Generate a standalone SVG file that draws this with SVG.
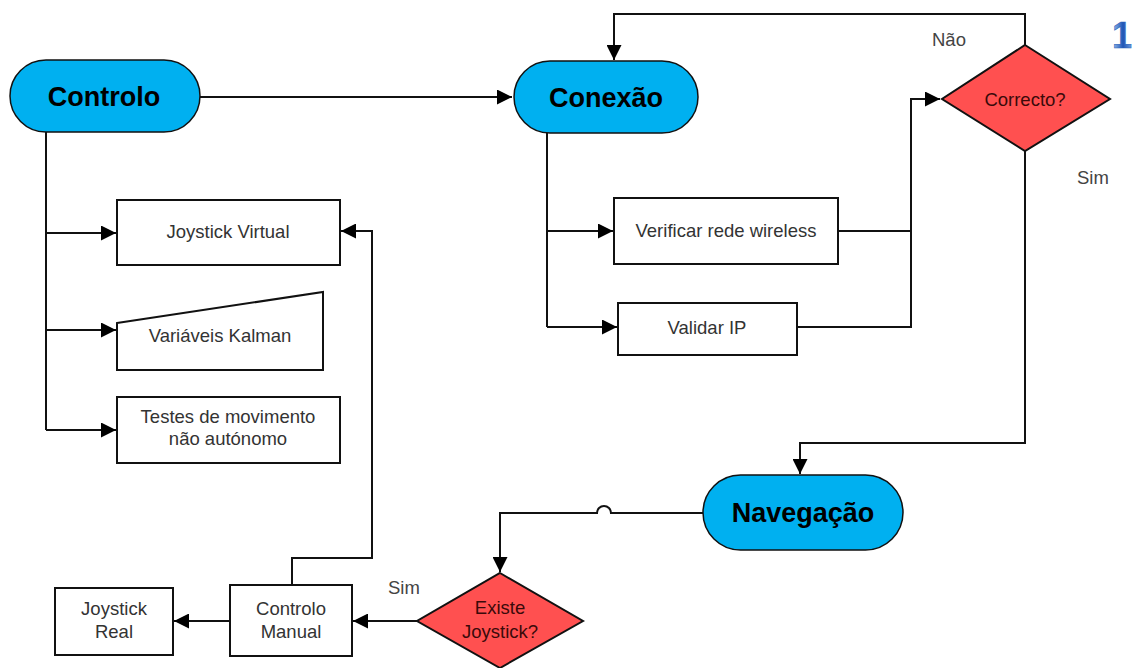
<svg xmlns="http://www.w3.org/2000/svg" width="1133" height="668" viewBox="0 0 1133 668">
<defs>
<marker id="ah" viewBox="0 0 10 10" refX="10" refY="5" markerWidth="16" markerHeight="15" markerUnits="userSpaceOnUse" orient="auto">
<path d="M0,0 L10,5 L0,10 Z" fill="#000"/>
</marker>
<linearGradient id="g1" x1="0" y1="0" x2="1" y2="0">
<stop offset="0" stop-color="#9ec3ee"/>
<stop offset="0.55" stop-color="#1f55b5"/>
<stop offset="1" stop-color="#6f9fe0"/>
</linearGradient>
</defs>
<style>
.pill{fill:#00b0f0;stroke:#111;stroke-width:1.5}
.box{fill:#fff;stroke:#111;stroke-width:2}
.dia{fill:#ff5050;stroke:#111;stroke-width:2}
.pt{font-family:"Liberation Sans",Arial,sans-serif;font-weight:bold;font-size:27px;fill:#000;text-anchor:middle}
.bt{font-family:"Liberation Sans",Arial,sans-serif;font-size:18.5px;fill:#333;text-anchor:middle}
.dt{font-family:"Liberation Sans",Arial,sans-serif;font-size:18.5px;fill:#3a0a0a;text-anchor:middle}
.lb{font-family:"Liberation Sans",Arial,sans-serif;font-size:18.5px;fill:#444}
.c{fill:none;stroke:#111;stroke-width:2}
</style>
<rect width="1133" height="668" fill="#fff"/>
<g id="connectors">
<path class="c" d="M200,97 L512,97" marker-end="url(#ah)"/>
<path class="c" d="M1025,45 L1025,14 L614,14 L614,60" marker-end="url(#ah)"/>
<path class="c" d="M1025,150 L1025,443 L800,443 L800,474" marker-end="url(#ah)"/>
<path class="c" d="M703,513 L611,513 A7,7 0 0 0 597,513 L500,513 L500,572" marker-end="url(#ah)"/>
<path class="c" d="M418,621 L353,621" marker-end="url(#ah)"/>
<path class="c" d="M230,621 L174,621" marker-end="url(#ah)"/>
<path class="c" d="M292,585 L292,558 L372,558 L372,231 L341,231" marker-end="url(#ah)"/>
<path class="c" d="M46,132 L46,430"/>
<path class="c" d="M46,233 L116,233" marker-end="url(#ah)"/>
<path class="c" d="M46,330 L116,330" marker-end="url(#ah)"/>
<path class="c" d="M46,430 L116,430" marker-end="url(#ah)"/>
<path class="c" d="M547,133 L547,327"/>
<path class="c" d="M547,231 L613,231" marker-end="url(#ah)"/>
<path class="c" d="M547,327 L617,327" marker-end="url(#ah)"/>
<path class="c" d="M838,231 L911,231"/>
<path class="c" d="M797,327 L911,327 L911,99 L940,99" marker-end="url(#ah)"/>
</g>
<g id="controlo">
<rect class="pill" x="10" y="60" width="190" height="72" rx="36"/>
<text class="pt" x="104" y="106">Controlo</text>
</g>
<g id="conexao">
<rect class="pill" x="514" y="61" width="184" height="72" rx="36"/>
<text class="pt" x="606" y="107">Conexão</text>
</g>
<g id="correcto">
<polygon class="dia" points="1025,45 1110,99 1025,151 942,99"/>
<text class="dt" x="1025" y="106">Correcto?</text>
</g>
<g id="navegacao">
<rect class="pill" x="703" y="475" width="200" height="75" rx="37.5"/>
<text class="pt" x="803" y="522">Navegação</text>
</g>
<g id="existe">
<polygon class="dia" points="500,573 583,621 500,668 417,621"/>
<text class="dt" x="500" y="614">Existe</text>
<text class="dt" x="500" y="638">Joystick?</text>
</g>
<g id="joystick-virtual">
<rect class="box" x="117" y="200" width="223" height="65"/>
<text class="bt" x="228" y="238">Joystick Virtual</text>
</g>
<g id="variaveis-kalman">
<polygon class="box" points="117,323 323,292 323,370 117,370"/>
<text class="bt" x="220" y="342">Variáveis Kalman</text>
</g>
<g id="testes">
<rect class="box" x="117" y="397" width="223" height="66"/>
<text class="bt" x="228" y="423">Testes de movimento</text>
<text class="bt" x="228" y="445">não autónomo</text>
</g>
<g id="verificar">
<rect class="box" x="614" y="198" width="224" height="66"/>
<text class="bt" x="726" y="237">Verificar rede wireless</text>
</g>
<g id="validar">
<rect class="box" x="618" y="303" width="179" height="52"/>
<text class="bt" x="707" y="334">Validar IP</text>
</g>
<g id="controlo-manual">
<rect class="box" x="230" y="585" width="122" height="71"/>
<text class="bt" x="291" y="615">Controlo</text>
<text class="bt" x="291" y="638">Manual</text>
</g>
<g id="joystick-real">
<rect class="box" x="55" y="588" width="118" height="67"/>
<text class="bt" x="114" y="615">Joystick</text>
<text class="bt" x="114" y="638">Real</text>
</g>
<g id="labels">
<text class="lb" x="932" y="46">Não</text>
<text class="lb" x="1077" y="184">Sim</text>
<text class="lb" x="388" y="594">Sim</text>
</g>
<text x="1112" y="48" font-family="Liberation Sans,Arial,sans-serif" font-weight="bold" font-size="36" fill="url(#g1)" stroke="#2a5fb8" stroke-width="0.5">1</text>
</svg>
